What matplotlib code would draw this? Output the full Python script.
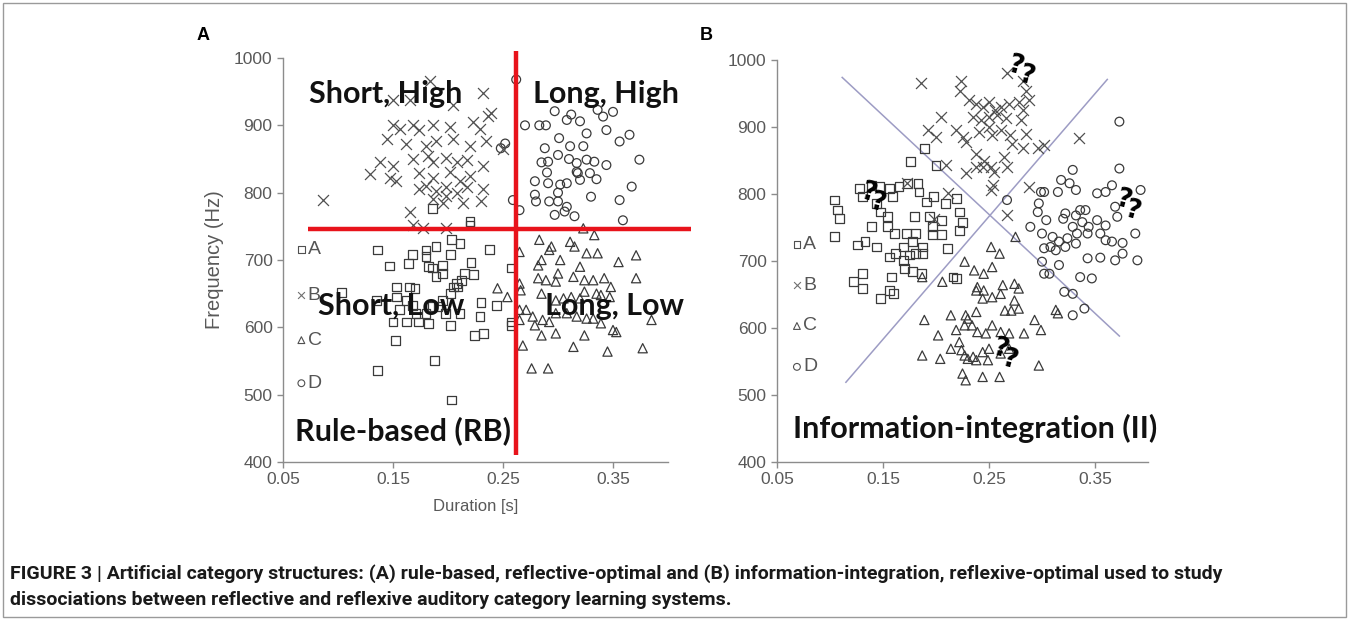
import matplotlib
matplotlib.use("Agg")
import matplotlib.pyplot as plt
from matplotlib.patches import Rectangle

# ---------------- Panel A data (rule-based) ----------------
a_sq_x = [0.186, 0.220, 0.220, 0.136, 0.147, 0.164, 0.168, 0.180, 0.180, 0.189, 0.182, 0.195, 0.202, 0.203, 0.211,
          0.238, 0.221, 0.223, 0.215, 0.212, 0.209, 0.186, 0.195, 0.189, 0.258, 0.153, 0.165, 0.170, 0.153, 0.162,
          0.168, 0.156, 0.171, 0.162, 0.150, 0.173, 0.182, 0.180, 0.186, 0.195, 0.202, 0.205, 0.208, 0.198, 0.202,
          0.191, 0.211, 0.135, 0.103, 0.152, 0.224, 0.232, 0.229, 0.230, 0.244, 0.258, 0.258, 0.136, 0.188, 0.203]
a_sq_y = [777, 757, 752, 715, 691, 695, 708, 715, 705, 720, 690, 692, 708, 730, 725,
          716, 696, 678, 680, 670, 660, 688, 680, 675, 688, 660, 660, 658, 645, 640,
          633, 626, 621, 608, 608, 608, 606, 621, 631, 640, 650, 660, 665, 621, 603,
          631, 621, 640, 652, 581, 588, 591, 616, 637, 633, 608, 603, 536, 551, 492]

a_x_x = [0.086, 0.150, 0.165, 0.184, 0.205, 0.232, 0.239, 0.236,
         0.150, 0.156, 0.168, 0.174, 0.186, 0.202, 0.223, 0.229,
         0.145, 0.162, 0.180, 0.189, 0.205, 0.220, 0.235, 0.250,
         0.138, 0.150, 0.168, 0.182, 0.186, 0.198, 0.208, 0.217, 0.232,
         0.129, 0.147, 0.153, 0.174, 0.186, 0.202, 0.211, 0.220,
         0.174, 0.180, 0.189, 0.198, 0.208, 0.217, 0.232,
         0.186, 0.195, 0.198, 0.214, 0.230, 0.165, 0.168, 0.177, 0.198]
a_x_y = [789, 938, 938, 966, 930, 948, 918, 914,
         900, 895, 900, 893, 900, 898, 905, 895,
         880, 872, 870, 876, 880, 869, 876, 865,
         845, 840, 850, 855, 845, 852, 845, 849, 840,
         828, 822, 818, 829, 822, 830, 818, 825,
         805, 810, 802, 808, 800, 808, 805,
         790, 785, 795, 784, 787, 772, 752, 748, 748]

a_tri_x = [0.245, 0.254, 0.265, 0.283, 0.292, 0.294, 0.302, 0.311, 0.315, 0.326, 0.336, 0.355, 0.371,
           0.323, 0.333, 0.282, 0.285, 0.320, 0.265, 0.266,
           0.282, 0.289, 0.298, 0.300, 0.314, 0.324, 0.332, 0.342, 0.348, 0.371,
           0.285, 0.298, 0.305, 0.312, 0.320, 0.324, 0.335, 0.339, 0.347,
           0.271, 0.277, 0.286, 0.292, 0.298, 0.308, 0.317, 0.326, 0.332, 0.339, 0.350,
           0.385, 0.279, 0.285, 0.298, 0.324, 0.353, 0.268, 0.314, 0.345, 0.377, 0.276, 0.291,
           0.265, 0.265]
a_tri_y = [658, 645, 712, 730, 715, 720, 700, 727, 720, 710, 710, 697, 707,
           747, 737, 692, 700, 690, 665, 655,
           673, 670, 668, 680, 675, 670, 670, 673, 660, 673,
           650, 640, 643, 645, 643, 653, 650, 648, 645,
           626, 616, 611, 608, 621, 621, 616, 613, 613, 606, 596,
           611, 603, 588, 591, 588, 593, 573, 571, 564, 569, 539, 539,
           626, 611]

a_ci_x = [0.262, 0.270, 0.283, 0.289, 0.252, 0.248, 0.297, 0.308, 0.312, 0.320, 0.326, 0.336, 0.341, 0.344,
          0.350, 0.356, 0.365, 0.374, 0.288, 0.301, 0.311, 0.323, 0.291, 0.300, 0.317, 0.326, 0.333, 0.344,
          0.317, 0.318, 0.329, 0.279, 0.291, 0.302, 0.308, 0.320, 0.330, 0.356, 0.367, 0.259, 0.265,
          0.279, 0.280, 0.292, 0.300, 0.308, 0.306, 0.315, 0.297, 0.359, 0.300, 0.290, 0.285, 0.310, 0.335]
a_ci_y = [968, 900, 900, 900, 873, 866, 921, 908, 916, 906, 888, 923, 913, 893,
          920, 876, 886, 849, 866, 881, 869, 869, 846, 856, 844, 849, 846, 841,
          831, 829, 829, 817, 814, 812, 814, 819, 794, 789, 809, 789, 774,
          797, 787, 787, 787, 779, 772, 765, 767, 759, 800, 830, 845, 850, 820]

# ---------------- Panel B data (information-integration) ----------------
b_sq_x = [0.189, 0.176, 0.200, 0.104, 0.107, 0.109, 0.104,
          0.128, 0.139, 0.147, 0.156, 0.165, 0.173, 0.183, 0.184,
          0.131, 0.144, 0.148, 0.154, 0.159, 0.139, 0.144, 0.126, 0.133,
          0.154, 0.161, 0.172, 0.181, 0.191, 0.198, 0.209, 0.219,
          0.180, 0.194, 0.197, 0.205, 0.222, 0.225,
          0.169, 0.178, 0.187, 0.175, 0.181, 0.187, 0.162, 0.156, 0.169,
          0.197, 0.205, 0.211, 0.222, 0.170, 0.178, 0.186,
          0.122, 0.131, 0.131, 0.148, 0.156, 0.158, 0.160, 0.216, 0.219]
b_sq_y = [868, 848, 843, 791, 776, 763, 736,
          808, 813, 811, 808, 811, 816, 816, 803,
          796, 786, 773, 766, 796, 751, 721, 724, 729,
          751, 741, 741, 741, 788, 796, 786, 793,
          766, 766, 751, 761, 773, 758,
          721, 729, 721, 709, 711, 711, 711, 706, 701,
          739, 739, 719, 746, 689, 684, 681,
          669, 681, 659, 644, 656, 676, 651, 676, 674]

b_x_x = [0.186, 0.224, 0.223, 0.267, 0.282, 0.285, 0.288, 0.205, 0.192, 0.200, 0.219, 0.225, 0.228,
         0.231, 0.238, 0.244, 0.250, 0.256, 0.261, 0.235, 0.242, 0.250, 0.258, 0.266,
         0.269, 0.278, 0.282, 0.241, 0.250, 0.253, 0.261, 0.270, 0.280, 0.285, 0.272, 0.282,
         0.296, 0.302, 0.245, 0.252, 0.244, 0.238, 0.264, 0.267, 0.228, 0.238, 0.255,
         0.254, 0.252, 0.335, 0.288, 0.267, 0.211, 0.173, 0.209, 0.198]
b_x_y = [965, 968, 953, 980, 968, 953, 940, 915, 895, 885, 895, 885, 878,
         940, 935, 930, 938, 925, 930, 915, 910, 915, 918, 913,
         935, 938, 925, 893, 900, 888, 895, 888, 910, 890, 875, 868,
         868, 873, 850, 840, 840, 860, 855, 840, 831, 840, 833,
         813, 806, 883, 810, 768, 801, 816, 843, 763]

b_tri_x = [0.275, 0.252, 0.260, 0.227, 0.236, 0.245, 0.253, 0.187, 0.206,
           0.239, 0.245, 0.238, 0.263, 0.274, 0.278,
           0.244, 0.253, 0.261, 0.274, 0.265, 0.271, 0.278,
           0.189, 0.214, 0.228, 0.238,
           0.202, 0.219, 0.230, 0.227, 0.234, 0.239, 0.247, 0.253, 0.261, 0.269, 0.283, 0.293, 0.299, 0.313, 0.315,
           0.187, 0.204, 0.214, 0.222, 0.224, 0.227, 0.235, 0.244, 0.250, 0.261, 0.269,
           0.225, 0.228, 0.244, 0.260, 0.297, 0.230, 0.238, 0.249]
b_tri_y = [736, 721, 711, 699, 686, 681, 691, 676, 669,
           661, 656, 656, 664, 666, 659,
           644, 646, 651, 641, 626, 626, 629,
           612, 619, 619, 624,
           589, 597, 614, 604, 604, 594, 592, 604, 594, 592, 592, 612, 597, 627, 622,
           559, 554, 569, 579, 567, 559, 557, 564, 569, 562, 569,
           532, 522, 527, 527, 544, 554, 552, 552]

b_ci_x = [0.373, 0.373, 0.329, 0.318, 0.326, 0.332,
          0.299, 0.302, 0.315, 0.352, 0.360, 0.366, 0.393, 0.267,
          0.297, 0.296, 0.304, 0.289,
          0.322, 0.320, 0.332, 0.336, 0.341, 0.329, 0.338, 0.344, 0.352, 0.360, 0.369, 0.371,
          0.300, 0.310, 0.316, 0.308, 0.324, 0.333, 0.343,
          0.302, 0.313, 0.322, 0.332, 0.355, 0.360, 0.366, 0.376, 0.388,
          0.343, 0.355, 0.369, 0.376, 0.390,
          0.300, 0.316, 0.302, 0.307, 0.336, 0.347,
          0.321, 0.329, 0.329, 0.340]
b_ci_y = [908, 838, 836, 821, 816, 806,
          803, 803, 803, 801, 803, 813, 806, 791,
          786, 773, 761, 751,
          771, 763, 768, 776, 776, 751, 758, 751, 761, 753, 781, 766,
          741, 736, 729, 721, 734, 741, 741,
          719, 716, 721, 726, 741, 731, 729, 727, 741,
          704, 705, 701, 711, 701,
          699, 694, 681, 681, 676, 674,
          654, 651, 619, 629]

# question-mark positions in panel B
q_x = [0.275, 0.285, 0.136, 0.145, 0.377, 0.385, 0.261, 0.269]
q_y = [990, 976, 801, 786, 791, 774, 569, 552]

# category boundaries
rb_dur = 0.262
rb_freq = 746
ii_line1_x = [0.1115, 0.373]
ii_line1_y = [974, 588]
ii_line2_x = [0.115, 0.3616]
ii_line2_y = [519, 971]

x_ticks = [0.05, 0.15, 0.25, 0.35]
x_ticklabels = ["0.05", "0.15", "0.25", "0.35"]
y_ticks = [400, 500, 600, 700, 800, 900, 1000]
legend_letters = ["A", "B", "C", "D"]

W, H = 1349, 620
fig = plt.figure(figsize=(W / 100, H / 100), dpi=100)

TICK_COLOR = "#595959"
SPINE_COLOR = "#8c8c8c"
MK_COLOR = "#3a3a3a"
BIG_FONT = "Lato"


def style_axes(ax):
    ax.set_xlim(0.05, 0.40)
    ax.set_ylim(400, 1000)
    for s in ["top", "right"]:
        ax.spines[s].set_visible(False)
    for s in ["left", "bottom"]:
        ax.spines[s].set_color(SPINE_COLOR)
        ax.spines[s].set_linewidth(1.0)
    ax.set_xticks(x_ticks)
    ax.set_xticklabels(x_ticklabels)
    ax.set_yticks(y_ticks)
    ax.tick_params(axis="both", colors=SPINE_COLOR, labelcolor=TICK_COLOR, labelsize=12.5,
                   length=4, width=1.0, direction="out")
    for lab in ax.get_xticklabels() + ax.get_yticklabels():
        lab.set_family("Liberation Sans")
    ax.set_facecolor("none")


def draw_points(ax, sx, sy, xx, xy, tx, ty, cx, cy):
    kw = dict(facecolors="none", edgecolors=MK_COLOR, linewidths=0.9, zorder=2)
    ax.scatter(sx, sy, marker="s", s=40, **kw)
    ax.scatter(tx, ty, marker="^", s=44, **kw)
    ax.scatter(cx, cy, marker="o", s=40, **kw)
    ax.scatter(xx, xy, marker="x", s=62, c="#505050", linewidths=0.9, zorder=2)


def draw_key(ax, x0, ys):
    markers = ["s", "x", "^", "o"]
    for m, y, lab in zip(markers, ys, legend_letters):
        if m == "x":
            ax.scatter([x0], [y], marker=m, s=24, c="#707070", linewidths=0.8, clip_on=False)
        else:
            ax.scatter([x0], [y], marker=m, s=24, facecolors="none", edgecolors="#505050",
                       linewidths=0.8, clip_on=False)
        ax.text(x0 + 0.0058, y, lab, fontsize=14, color="#555555", va="center", ha="left",
                family="Liberation Sans")


# ---- Panel A ----
axA = fig.add_axes([283 / W, 1 - 462 / H, 385 / W, 404 / H])
style_axes(axA)
draw_points(axA, a_sq_x, a_sq_y, a_x_x, a_x_y, a_tri_x, a_tri_y, a_ci_x, a_ci_y)
axA.plot([rb_dur, rb_dur], [410, 1010], color="#e8131b", lw=3.2, zorder=4, clip_on=False,
         solid_capstyle="butt")
axA.plot([0.073, 0.421], [rb_freq, rb_freq], color="#e8131b", lw=3.2, zorder=4, clip_on=False,
         solid_capstyle="butt")
draw_key(axA, 0.0667, [715, 648, 581, 517])
big = dict(fontsize=22, fontweight="bold", family=BIG_FONT, color="#111111", va="center", zorder=5)
axA.text(0.074, 947, "Short, High", ha="left", **big)
axA.text(0.277, 947, "Long, High", ha="left", **big)
axA.text(0.082, 632, "Short, Low", ha="left", **big)
axA.text(0.288, 632, "Long, Low", ha="left", **big)
axA.text(0.061, 446, "Rule-based (RB)", ha="left", **big)
axA.set_ylabel("Frequency (Hz)", fontsize=14.5, color=TICK_COLOR, family="Liberation Sans", labelpad=7)
axA.set_xlabel("Duration [s]", fontsize=12, color=TICK_COLOR, family="Liberation Sans", labelpad=8)

# ---- Panel B ----
axB = fig.add_axes([777 / W, 1 - 462 / H, 371 / W, 402 / H])
style_axes(axB)
axB.plot(ii_line1_x, ii_line1_y, color="#9d9cc4", lw=1.1, zorder=1)
axB.plot(ii_line2_x, ii_line2_y, color="#9d9cc4", lw=1.1, zorder=1)
draw_points(axB, b_sq_x, b_sq_y, b_x_x, b_x_y, b_tri_x, b_tri_y, b_ci_x, b_ci_y)
draw_key(axB, 0.0688, [725, 664, 603, 542])
for qx, qy in zip(q_x, q_y):
    axB.text(qx, qy, "?", fontsize=19, fontweight="bold", family="DejaVu Sans", color="black",
             ha="center", va="center", rotation=-15, zorder=5, clip_on=False)
axB.text(0.065, 450, "Information-integration (II)", ha="left", **big)

# panel letters
fig.text(203 / W, 1 - 35 / H, "A", fontsize=13, fontweight="bold", family="Liberation Sans",
         ha="center", va="center")
fig.text(706 / W, 1 - 35 / H, "B", fontsize=13, fontweight="bold", family="Liberation Sans",
         ha="center", va="center")

# caption
cap1 = ("FIGURE 3 | Artificial category structures: (A) rule-based, reflective-optimal and (B) "
        "information-integration, reflexive-optimal used to study")
cap2 = "dissociations between reflective and reflexive auditory category learning systems."
fig.text(10 / W, 1 - 574 / H, cap1, fontsize=14, fontweight="bold", family="Roboto",
         ha="left", va="center", color="#1a1a1a")
fig.text(10 / W, 1 - 600 / H, cap2, fontsize=14, fontweight="bold", family="Roboto",
         ha="left", va="center", color="#1a1a1a")

# outer frame
fig.patches.append(Rectangle((3 / W, 3 / H), 1 - 6 / W, 1 - 6 / H, transform=fig.transFigure,
                             fill=False, edgecolor="#9a9a9a", linewidth=1.0))

fig.savefig("out.png", dpi=100)
